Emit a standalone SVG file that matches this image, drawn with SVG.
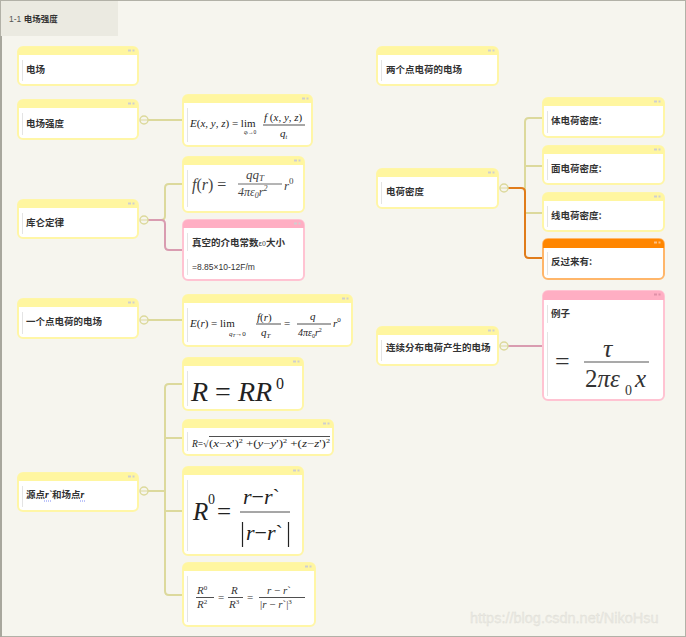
<svg xmlns="http://www.w3.org/2000/svg" width="686" height="637" viewBox="0 0 686 637">
<defs>
<style>
.bg{fill:#f6f5ee}
.bd{fill:#fff;stroke:#fff6a6;stroke-width:2}
.hd{fill:#fff6a0}
.bdp{fill:#fff;stroke:#ffc3d2;stroke-width:2}
.hdp{fill:#ffaec3}
.bdo{fill:#fff;stroke:#ffb66a;stroke-width:2}
.hdo{fill:#ff8600}
.vl{stroke:#e4e4e4;stroke-width:1}
.ic{fill:#cfcfcf}
.t{font-family:"Noto Sans CJK SC","Liberation Sans",sans-serif;font-size:9.5px;font-weight:bold;fill:#333}
.t2{font-family:"Liberation Sans","Noto Sans CJK SC",sans-serif;font-size:8.5px;fill:#333}
.m{font-family:"Liberation Serif","DejaVu Serif",serif;fill:#222}
.i{font-style:italic}
.ol{fill:none;stroke:#dcd99c;stroke-width:2}
.pk{fill:none;stroke:#d99cb0;stroke-width:2}
.or{fill:none;stroke:#e07c1a;stroke-width:2}
.cc{fill:#f6f5ee;stroke:#dcd99c;stroke-width:1.5}
.fl{stroke:#222;stroke-width:0.8}
</style>
</defs>
<rect class="bg" x="0" y="0" width="686" height="637"/>
<rect x="0.5" y="0.5" width="685" height="636" fill="none" stroke="#b2b1a7" stroke-width="1"/>
<line x1="1" y1="36" x2="1" y2="637" stroke="#a8a79d" stroke-width="2"/>
<g id="tab">
<rect x="1" y="1" width="117" height="35" fill="#ebeae1"/>
<text x="9" y="22" class="t2" style="fill:#555">1-1 <tspan style="font-family:'Noto Sans CJK SC',sans-serif;font-weight:bold;fill:#333">电场强度</tspan></text>
</g>

<g id="connectors">
<path class="ol" d="M148,120 H183"/>
<path class="ol" d="M148,220 H161 Q165,220 165,216 V188 Q165,184 169,184 H183"/>
<path class="pk" d="M148,220 H161 Q165,220 165,224 V246 Q165,250 169,250 H183"/>
<path class="ol" d="M148,320 H183"/>
<path class="ol" d="M148,491 H165 M183,384 H169 Q165,384 165,388 V591 Q165,595 169,595 H183 M165,438 H183 M165,511 H183"/>
<path class="ol" d="M543,118 H529 Q525,118 525,122 V213 H543 M525,166 H543"/>
<path class="or" d="M508,188 H521 Q525,188 525,192 V254 Q525,258 529,258 H543"/>
<path class="pk" d="M508,346 H543"/>
<g id="toggles">
<circle class="cc" cx="144" cy="120" r="4"/><path d="M140.5,120 H147.5" stroke="#dcd99c" stroke-width="1"/>
<circle class="cc" cx="144" cy="220" r="4"/><path d="M140.5,220 H147.5" stroke="#dcd99c" stroke-width="1"/>
<circle class="cc" cx="144" cy="320" r="4"/><path d="M140.5,320 H147.5" stroke="#dcd99c" stroke-width="1"/>
<circle class="cc" cx="144" cy="491" r="4"/><path d="M140.5,491 H147.5" stroke="#dcd99c" stroke-width="1"/>
<circle class="cc" cx="504" cy="188" r="4"/><path d="M500.5,188 H507.5" stroke="#dcd99c" stroke-width="1"/>
<circle class="cc" cx="504" cy="346" r="4"/><path d="M500.5,346 H507.5" stroke="#dcd99c" stroke-width="1"/>
</g>
</g>

<g id="n-dianchang">
<rect class="bd" x="18" y="47" width="120" height="38" rx="5"/>
<path class="hd" d="M18,55 V52 Q18,47 23,47 H133 Q138,47 138,52 V55 Z"/>
<rect class="ic" x="128" y="49.5" width="3" height="2"/><rect class="ic" x="132.5" y="49.5" width="2" height="2"/>
<line class="vl" x1="22.5" y1="60" x2="22.5" y2="81"/>
<text class="t" x="26" y="73">电场</text>
</g>

<g id="n-qiangdu">
<rect class="bd" x="18" y="100" width="120" height="39" rx="5"/>
<path class="hd" d="M18,108 V105 Q18,100 23,100 H133 Q138,100 138,105 V108 Z"/>
<rect class="ic" x="128" y="102.5" width="3" height="2"/><rect class="ic" x="132.5" y="102.5" width="2" height="2"/>
<line class="vl" x1="22.5" y1="113" x2="22.5" y2="135"/>
<text class="t" x="26" y="127">电场强度</text>
</g>

<g id="n-kulun">
<rect class="bd" x="18" y="200" width="120" height="38" rx="5"/>
<path class="hd" d="M18,208 V205 Q18,200 23,200 H133 Q138,200 138,205 V208 Z"/>
<rect class="ic" x="128" y="202.5" width="3" height="2"/><rect class="ic" x="132.5" y="202.5" width="2" height="2"/>
<line class="vl" x1="22.5" y1="213" x2="22.5" y2="234"/>
<text class="t" x="26" y="226">库仑定律</text>
</g>

<g id="n-yige">
<rect class="bd" x="18" y="299" width="120" height="39" rx="5"/>
<path class="hd" d="M18,307 V304 Q18,299 23,299 H133 Q138,299 138,304 V307 Z"/>
<rect class="ic" x="128" y="301.5" width="3" height="2"/><rect class="ic" x="132.5" y="301.5" width="2" height="2"/>
<line class="vl" x1="22.5" y1="312" x2="22.5" y2="334"/>
<text class="t" x="26" y="325">一个点电荷的电场</text>
</g>

<g id="n-yuandian">
<rect class="bd" x="18" y="473" width="120" height="38" rx="5"/>
<path class="hd" d="M18,481 V478 Q18,473 23,473 H133 Q138,473 138,478 V481 Z"/>
<rect class="ic" x="128" y="475.5" width="3" height="2"/><rect class="ic" x="132.5" y="475.5" width="2" height="2"/>
<line class="vl" x1="22.5" y1="486" x2="22.5" y2="507"/>
<text class="t" x="26" y="498">源点<tspan class="m i" style="font-weight:bold">r`</tspan>和场点<tspan class="m i" style="font-weight:bold">r</tspan></text>
<line x1="44" y1="501" x2="51" y2="501" stroke="#5a6cf0" stroke-width="0.8" stroke-dasharray="1,1"/>
<line x1="80" y1="501" x2="85" y2="501" stroke="#5a6cf0" stroke-width="0.8" stroke-dasharray="1,1"/>
</g>

<g id="f-Exyz">
<rect class="bd" x="183" y="95" width="129" height="51" rx="5"/>
<path class="hd" d="M183,103 V100 Q183,95 188,95 H307 Q312,95 312,100 V103 Z"/>
<rect class="ic" x="302" y="97.5" width="3" height="2"/><rect class="ic" x="306.5" y="97.5" width="2" height="2"/>
<line class="vl" x1="187.5" y1="108" x2="187.5" y2="142"/>
<text class="m" x="190" y="127" font-size="11"><tspan class="i">E</tspan>(<tspan class="i">x</tspan>, <tspan class="i">y</tspan>, <tspan class="i">z</tspan>) = lim</text>
<text class="m" x="244" y="134" font-size="5.5"><tspan class="i">q</tspan><tspan font-size="4">t</tspan>→0</text>
<text class="m" x="264" y="121" font-size="11"><tspan class="i">f</tspan> (<tspan class="i">x</tspan>, <tspan class="i">y</tspan>, <tspan class="i">z</tspan>)</text>
<line class="fl" x1="263" y1="125" x2="305" y2="125"/>
<text class="m i" x="280" y="137" font-size="11">q<tspan font-size="6" dy="2">t</tspan></text>
</g>

<g id="f-fr">
<rect class="bd" x="183" y="157" width="121" height="55" rx="5"/>
<path class="hd" d="M183,165 V162 Q183,157 188,157 H299 Q304,157 304,162 V165 Z"/>
<rect class="ic" x="294" y="159.5" width="3" height="2"/><rect class="ic" x="298.5" y="159.5" width="2" height="2"/>
<line class="vl" x1="187.5" y1="170" x2="187.5" y2="207"/>
<text class="m" x="192" y="190" font-size="16" style="fill:#444"><tspan class="i">f</tspan>(<tspan class="i">r</tspan>) =</text>
<text class="m i" x="246" y="179" font-size="13" style="fill:#444">qq<tspan font-size="9" dy="2">T</tspan></text>
<line class="fl" x1="238" y1="184" x2="282" y2="184" style="stroke:#444"/>
<text class="m i" x="238" y="196" font-size="12" style="fill:#444">4πε<tspan font-size="8" dy="2">0</tspan><tspan dy="-2">r</tspan><tspan font-size="8" dy="-5">2</tspan></text>
<text class="m i" x="284" y="190" font-size="13" style="fill:#444">r<tspan font-size="9" dy="-6" font-style="normal">0</tspan></text>
</g>

<g id="p-zhenkong">
<rect class="bdp" x="183" y="220" width="121" height="60" rx="5"/>
<path class="hdp" d="M183,228 V225 Q183,220 188,220 H299 Q304,220 304,225 V228 Z"/>
<rect class="ic" x="294" y="222.5" width="3" height="2"/><rect class="ic" x="298.5" y="222.5" width="2" height="2"/>
<line class="vl" x1="187.5" y1="233" x2="187.5" y2="251"/>
<line class="vl" x1="187.5" y1="259" x2="187.5" y2="275"/>
<text class="t" x="192" y="246">真空的介电常数<tspan font-size="7" font-weight="normal">ε0</tspan>大小</text>
<text class="t2" x="192" y="270">=8.85×10-12F/m</text>
</g>

<g id="f-Er">
<rect class="bd" x="183" y="295" width="169" height="51" rx="5"/>
<path class="hd" d="M183,303 V300 Q183,295 188,295 H347 Q352,295 352,300 V303 Z"/>
<rect class="ic" x="342" y="297.5" width="3" height="2"/><rect class="ic" x="346.5" y="297.5" width="2" height="2"/>
<line class="vl" x1="187.5" y1="308" x2="187.5" y2="342"/>
<text class="m" x="190" y="327" font-size="11"><tspan class="i">E</tspan>(<tspan class="i">r</tspan>) = lim</text>
<text class="m" x="229" y="336" font-size="7"><tspan class="i">q</tspan><tspan class="i" font-size="5" dy="1">T</tspan><tspan dy="-1">→0</tspan></text>
<text class="m" x="257" y="321" font-size="11"><tspan class="i">f</tspan>(<tspan class="i">r</tspan>)</text>
<line class="fl" x1="256" y1="324" x2="281" y2="324"/>
<text class="m i" x="261" y="336" font-size="11">q<tspan font-size="7" dy="2">T</tspan></text>
<text class="m" x="284" y="327" font-size="11">=</text>
<text class="m i" x="310" y="320" font-size="11">q</text>
<line class="fl" x1="297" y1="324" x2="331" y2="324"/>
<text class="m i" x="298" y="336" font-size="10">4πε<tspan font-size="6" dy="1.5" font-style="normal">0</tspan><tspan dy="-1.5">r</tspan><tspan font-size="6" dy="-4" font-style="normal">2</tspan></text>
<text class="m i" x="333" y="327" font-size="11">r<tspan font-size="7" dy="-5" font-style="normal">0</tspan></text>
</g>

<g id="f-RRR0">
<rect class="bd" x="183" y="358" width="120" height="52" rx="5"/>
<path class="hd" d="M183,366 V363 Q183,358 188,358 H298 Q303,358 303,363 V366 Z"/>
<rect class="ic" x="293" y="360.5" width="3" height="2"/><rect class="ic" x="297.5" y="360.5" width="2" height="2"/>
<line class="vl" x1="187.5" y1="371" x2="187.5" y2="406"/>
<text class="m" x="191" y="401" font-size="28"><tspan class="i">R</tspan> = <tspan class="i">RR</tspan></text>
<text class="m" x="276" y="389" font-size="16">0</text>
</g>

<g id="f-Rsqrt">
<rect class="bd" x="183" y="420" width="150" height="35" rx="5"/>
<path class="hd" d="M183,428 V425 Q183,420 188,420 H328 Q333,420 333,425 V428 Z"/>
<rect class="ic" x="323" y="422.5" width="3" height="2"/><rect class="ic" x="327.5" y="422.5" width="2" height="2"/>
<line class="vl" x1="187.5" y1="432" x2="187.5" y2="451"/>
<text class="m" x="192" y="447" font-size="9.5"><tspan class="i">R</tspan>=√</text>
<line class="fl" x1="209" y1="436.5" x2="330" y2="436.5" stroke-width="0.6"/>
<text class="m" x="209" y="447" font-size="9.5" textLength="121" lengthAdjust="spacingAndGlyphs">(<tspan class="i">x</tspan>−<tspan class="i">x</tspan>')<tspan font-size="6" dy="-4">2</tspan><tspan dy="4"> +(</tspan><tspan class="i">y</tspan>−<tspan class="i">y</tspan>')<tspan font-size="6" dy="-4">2</tspan><tspan dy="4"> +(</tspan><tspan class="i">z</tspan>−<tspan class="i">z</tspan>')<tspan font-size="6" dy="-4">2</tspan></text>
</g>

<g id="f-R0">
<rect class="bd" x="183" y="467" width="120" height="88" rx="5"/>
<path class="hd" d="M183,475 V472 Q183,467 188,467 H298 Q303,467 303,472 V475 Z"/>
<rect class="ic" x="293" y="469.5" width="3" height="2"/><rect class="ic" x="297.5" y="469.5" width="2" height="2"/>
<line class="vl" x1="187.5" y1="480" x2="187.5" y2="551"/>
<text class="m i" x="193" y="520" font-size="25">R</text>
<text class="m" x="208" y="504" font-size="14">0</text>
<text class="m" x="217" y="520" font-size="25">=</text>
<text class="m" x="243" y="504" font-size="22"><tspan class="i">r</tspan>−<tspan class="i">r</tspan>`</text>
<line class="fl" x1="240" y1="512" x2="290" y2="512" stroke-width="1"/>
<line x1="242.5" y1="522" x2="242.5" y2="547" stroke="#222" stroke-width="1.2"/>
<text class="m" x="246" y="540" font-size="22"><tspan class="i">r</tspan>−<tspan class="i">r</tspan>`</text>
<line x1="288.5" y1="522" x2="288.5" y2="547" stroke="#222" stroke-width="1.2"/>
</g>

<g id="f-R0R2">
<rect class="bd" x="183" y="563" width="132" height="63" rx="5"/>
<path class="hd" d="M183,571 V568 Q183,563 188,563 H310 Q315,563 315,568 V571 Z"/>
<rect class="ic" x="305" y="565.5" width="3" height="2"/><rect class="ic" x="309.5" y="565.5" width="2" height="2"/>
<line class="vl" x1="187.5" y1="576" x2="187.5" y2="622"/>
<text class="m" x="197" y="594" font-size="11" style="fill:#333"><tspan class="i">R</tspan><tspan font-size="7" dy="-4">0</tspan></text>
<line class="fl" x1="196" y1="597.5" x2="214" y2="597.5"/>
<text class="m" x="197" y="608" font-size="11" style="fill:#333"><tspan class="i">R</tspan><tspan font-size="7" dy="-4">2</tspan></text>
<text class="m" x="218" y="601" font-size="11" style="fill:#333">=</text>
<text class="m i" x="231" y="594" font-size="11" style="fill:#333">R</text>
<line class="fl" x1="228" y1="597.5" x2="243" y2="597.5"/>
<text class="m" x="229" y="608" font-size="11" style="fill:#333"><tspan class="i">R</tspan><tspan font-size="7" dy="-4">3</tspan></text>
<text class="m" x="247" y="601" font-size="11" style="fill:#333">=</text>
<text class="m" x="267" y="594" font-size="11" style="fill:#333"><tspan class="i">r</tspan> − <tspan class="i">r</tspan>`</text>
<line class="fl" x1="259" y1="597.5" x2="305" y2="597.5"/>
<text class="m" x="260" y="608" font-size="11" style="fill:#333">|<tspan class="i">r</tspan> − <tspan class="i">r</tspan>`|<tspan font-size="7" dy="-4">3</tspan></text>
</g>

<g id="n-liangge">
<rect class="bd" x="377" y="47" width="121" height="38" rx="5"/>
<path class="hd" d="M377,55 V52 Q377,47 382,47 H493 Q498,47 498,52 V55 Z"/>
<rect class="ic" x="488" y="49.5" width="3" height="2"/><rect class="ic" x="492.5" y="49.5" width="2" height="2"/>
<line class="vl" x1="381.5" y1="60" x2="381.5" y2="81"/>
<text class="t" x="386" y="73">两个点电荷的电场</text>
</g>

<g id="n-midu">
<rect class="bd" x="377" y="169" width="121" height="39" rx="5"/>
<path class="hd" d="M377,177 V174 Q377,169 382,169 H493 Q498,169 498,174 V177 Z"/>
<rect class="ic" x="488" y="171.5" width="3" height="2"/><rect class="ic" x="492.5" y="171.5" width="2" height="2"/>
<line class="vl" x1="381.5" y1="182" x2="381.5" y2="204"/>
<text class="t" x="386" y="195">电荷密度</text>
</g>

<g id="n-ti">
<rect class="bd" x="543" y="98" width="121" height="39" rx="5"/>
<path class="hd" d="M543,106 V103 Q543,98 548,98 H659 Q664,98 664,103 V106 Z"/>
<rect class="ic" x="654" y="100.5" width="3" height="2"/><rect class="ic" x="658.5" y="100.5" width="2" height="2"/>
<line class="vl" x1="547.5" y1="111" x2="547.5" y2="133"/>
<text class="t" x="551" y="124">体电荷密度:</text>
</g>

<g id="n-mian">
<rect class="bd" x="543" y="146" width="121" height="38" rx="5"/>
<path class="hd" d="M543,154 V151 Q543,146 548,146 H659 Q664,146 664,151 V154 Z"/>
<rect class="ic" x="654" y="148.5" width="3" height="2"/><rect class="ic" x="658.5" y="148.5" width="2" height="2"/>
<line class="vl" x1="547.5" y1="159" x2="547.5" y2="180"/>
<text class="t" x="551" y="172">面电荷密度:</text>
</g>

<g id="n-xian">
<rect class="bd" x="543" y="193" width="121" height="38" rx="5"/>
<path class="hd" d="M543,201 V198 Q543,193 548,193 H659 Q664,193 664,198 V201 Z"/>
<rect class="ic" x="654" y="195.5" width="3" height="2"/><rect class="ic" x="658.5" y="195.5" width="2" height="2"/>
<line class="vl" x1="547.5" y1="206" x2="547.5" y2="227"/>
<text class="t" x="551" y="219">线电荷密度:</text>
</g>

<g id="n-fanguo">
<rect class="bdo" x="543" y="239" width="121" height="40" rx="5"/>
<path class="hdo" d="M543,248 V244 Q543,239 548,239 H659 Q664,239 664,244 V248 Z"/>
<rect x="654" y="241.5" width="3" height="2" fill="#ffc080"/><rect x="658.5" y="241.5" width="2" height="2" fill="#ffc080"/>
<line class="vl" x1="547.5" y1="252" x2="547.5" y2="275"/>
<text class="t" x="551" y="265">反过来有:</text>
</g>

<g id="n-lianxu">
<rect class="bd" x="377" y="327" width="121" height="38" rx="5"/>
<path class="hd" d="M377,335 V332 Q377,327 382,327 H493 Q498,327 498,332 V335 Z"/>
<rect class="ic" x="488" y="329.5" width="3" height="2"/><rect class="ic" x="492.5" y="329.5" width="2" height="2"/>
<line class="vl" x1="381.5" y1="340" x2="381.5" y2="361"/>
<text class="t" x="386" y="351">连续分布电荷产生的电场</text>
</g>

<g id="p-lizi">
<rect class="bdp" x="543" y="291" width="121" height="109" rx="5"/>
<path class="hdp" d="M543,300 V296 Q543,291 548,291 H659 Q664,291 664,296 V300 Z"/>
<rect x="654" y="293.5" width="3" height="2" fill="#e090a8"/><rect x="658.5" y="293.5" width="2" height="2" fill="#e090a8"/>
<line class="vl" x1="547.5" y1="305" x2="547.5" y2="323"/>
<line class="vl" x1="547.5" y1="332" x2="547.5" y2="396"/>
<text class="t" x="551" y="317">例子</text>
<text class="m" x="555" y="370" font-size="26" style="fill:#333">=</text>
<text class="m i" x="603" y="357" font-size="26" style="fill:#333">τ</text>
<line x1="584" y1="362" x2="649" y2="362" stroke="#555" stroke-width="1.2"/>
<text class="m" x="585" y="387" font-size="25" style="fill:#333">2<tspan class="i">πε</tspan></text>
<text class="m" x="625" y="395" font-size="14" style="fill:#333">0</text>
<text class="m i" x="635" y="387" font-size="25" style="fill:#333">x</text>
</g>

<text x="470" y="623" font-family="Liberation Sans, sans-serif" font-size="14.5" fill="#ebeae4" stroke="#dddcd4" stroke-width="0.3">https://blog.csdn.net/NikoHsu</text>
</svg>
